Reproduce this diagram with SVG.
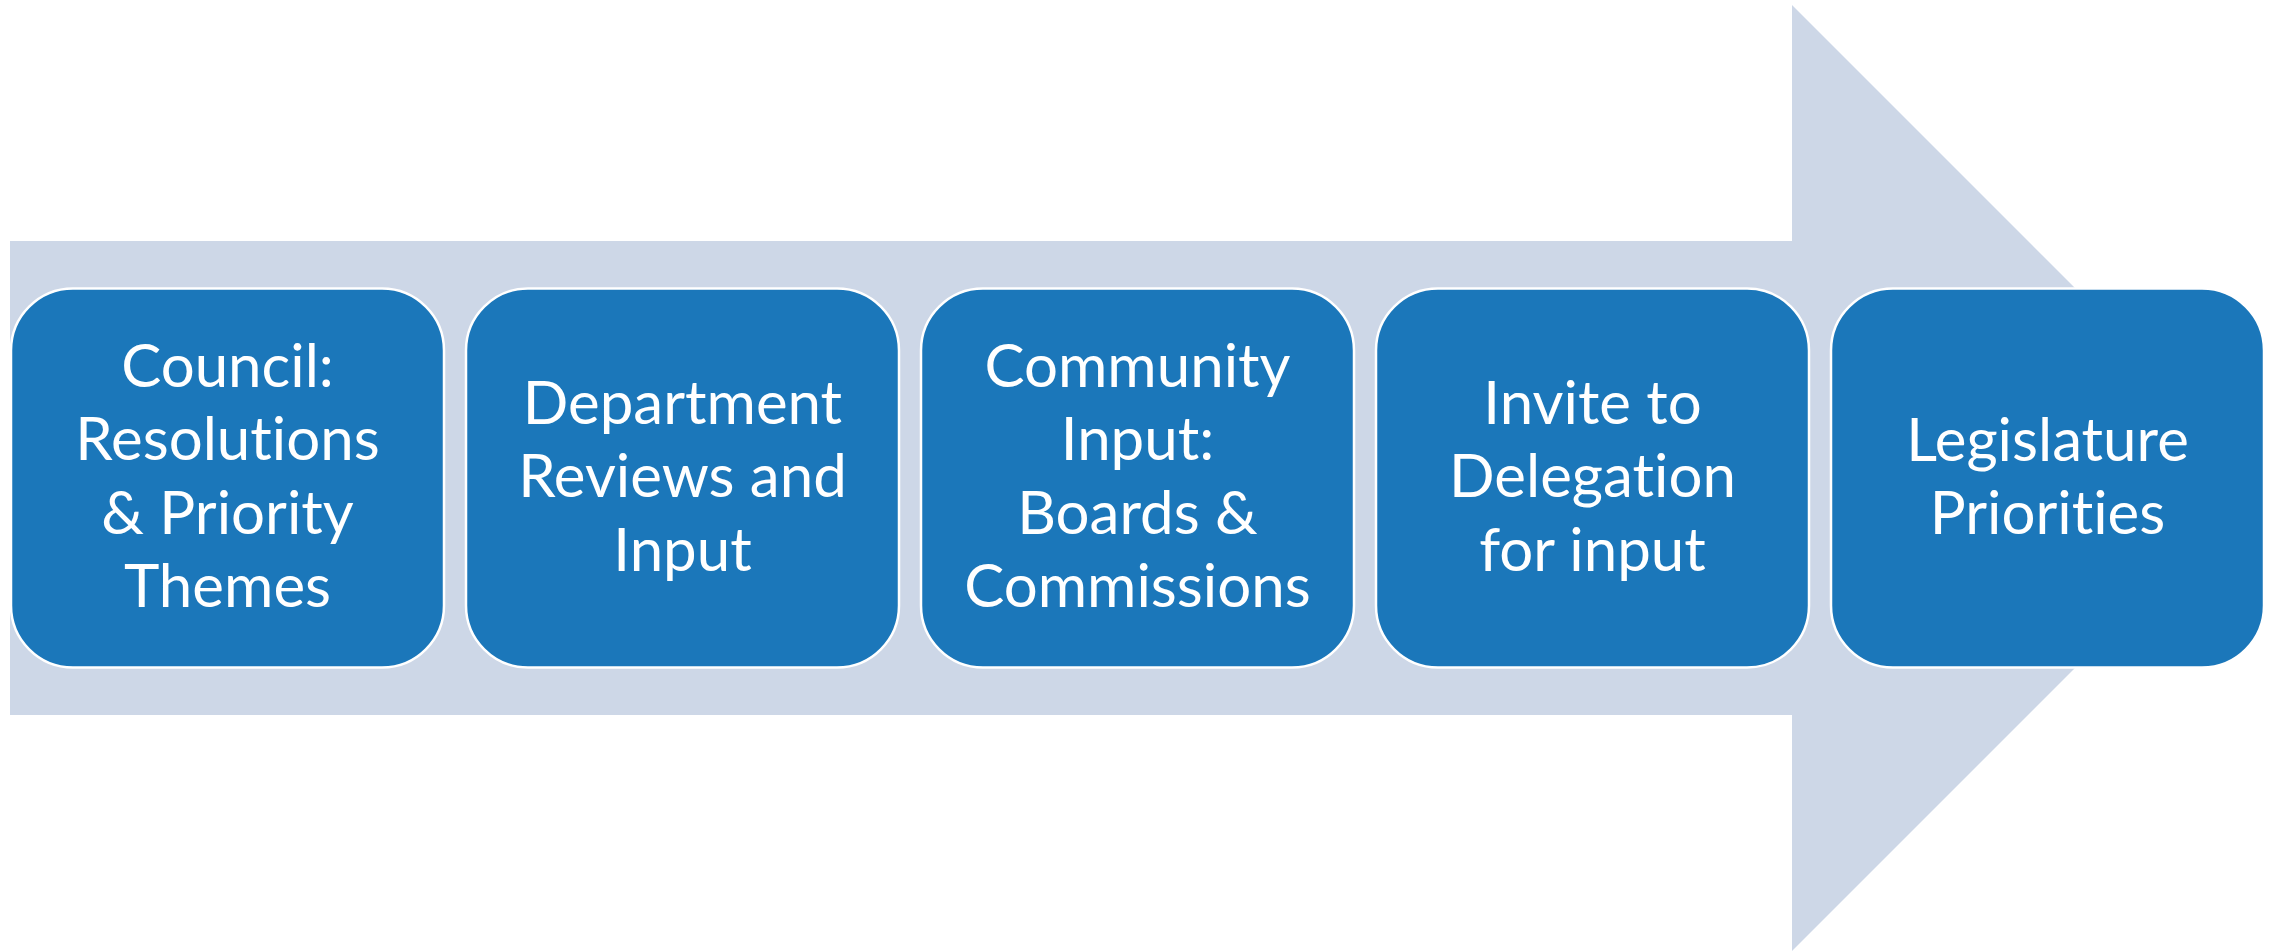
<svg xmlns="http://www.w3.org/2000/svg" width="2272" height="951" viewBox="0 0 2272 951">
<style>
.box{fill:#1B77BA;stroke:#FFFFFF;stroke-width:2.5}
.lbl{font-family:Lato,"Open Sans","Liberation Sans",sans-serif;font-size:60px;fill:#FFFFFF;text-anchor:middle;font-variant-ligatures:none;font-feature-settings:"liga" 0,"clig" 0}
</style>
<rect width="2272" height="951" fill="#FFFFFF"/>
<g id="arrow">
<polygon points="10,241 1792,241 1792,5 2265,478 1792,951 1792,715 10,715" fill="#CDD7E7"/>
</g>
<g id="connectors"></g>
<g id="n1">
<rect class="box" x="11" y="288.5" width="433" height="379" rx="62" ry="62"/>
<text class="lbl" x="227.5" y="387">Council:</text>
<text class="lbl" x="227.5" y="460">Resolutions</text>
<text class="lbl" x="227.5" y="533.5">&amp; Priority</text>
<text class="lbl" x="227.5" y="607">Themes</text>
</g>
<g id="n2">
<rect class="box" x="466" y="288.5" width="433" height="379" rx="62" ry="62"/>
<text class="lbl" x="682.5" y="423.5">Department</text>
<text class="lbl" x="682.5" y="497">Reviews and</text>
<text class="lbl" x="682.5" y="570.5">Input</text>
</g>
<g id="n3">
<rect class="box" x="921" y="288.5" width="433" height="379" rx="62" ry="62"/>
<text class="lbl" x="1137.5" y="387">Community</text>
<text class="lbl" x="1137.5" y="460">Input:</text>
<text class="lbl" x="1137.5" y="533.5">Boards &amp;</text>
<text class="lbl" x="1137.5" y="607">Commissions</text>
</g>
<g id="n4">
<rect class="box" x="1376" y="288.5" width="433" height="379" rx="62" ry="62"/>
<text class="lbl" x="1592.5" y="423.5">Invite to</text>
<text class="lbl" x="1592.5" y="497">Delegation</text>
<text class="lbl" x="1592.5" y="570.5">for input</text>
</g>
<g id="n5">
<rect class="box" x="1831" y="288.5" width="433" height="379" rx="62" ry="62"/>
<text class="lbl" x="2047.5" y="460.5">Legislature</text>
<text class="lbl" x="2047.5" y="533.5">Priorities</text>
</g>
</svg>
